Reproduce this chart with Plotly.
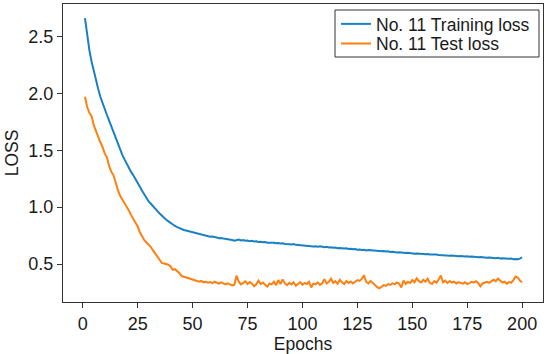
import plotly.graph_objects as go

epochs = list(range(1, 201))

train_loss = [
    2.66, 2.50, 2.38, 2.28, 2.19, 2.11, 2.04, 1.97, 1.91, 1.86,
    1.81, 1.76, 1.71, 1.65, 1.60, 1.55, 1.50, 1.46, 1.42, 1.38,
    1.35, 1.31, 1.28, 1.25, 1.22, 1.18, 1.145, 1.11, 1.075, 1.05,
    1.03, 1.005, 0.985, 0.965, 0.945, 0.925, 0.905, 0.89, 0.875, 0.86,
    0.85, 0.835, 0.825, 0.815, 0.81, 0.80, 0.795, 0.79, 0.785, 0.78,
    0.772, 0.768, 0.760, 0.757, 0.752, 0.748, 0.745, 0.740, 0.742, 0.735,
    0.733, 0.728, 0.730, 0.724, 0.722, 0.718, 0.716, 0.712, 0.706, 0.712,
    0.716, 0.708, 0.712, 0.705, 0.707, 0.700, 0.704, 0.698, 0.701, 0.695,
    0.697, 0.692, 0.694, 0.688, 0.690, 0.686, 0.688, 0.683, 0.685, 0.680,
    0.682, 0.677, 0.679, 0.675, 0.672, 0.676, 0.669, 0.667, 0.664, 0.666,
    0.661, 0.663, 0.658, 0.660, 0.655, 0.657, 0.652, 0.656, 0.650, 0.648,
    0.652, 0.646, 0.648, 0.643, 0.645, 0.640, 0.642, 0.638, 0.636, 0.639,
    0.633, 0.635, 0.630, 0.632, 0.627, 0.629, 0.624, 0.626, 0.620, 0.623,
    0.621, 0.618, 0.620, 0.615, 0.617, 0.613, 0.615, 0.610, 0.612, 0.607,
    0.609, 0.605, 0.601, 0.604, 0.600, 0.602, 0.597, 0.599, 0.595, 0.597,
    0.592, 0.594, 0.590, 0.592, 0.588, 0.586, 0.589, 0.584, 0.586, 0.582,
    0.584, 0.580, 0.578, 0.581, 0.576, 0.578, 0.574, 0.576, 0.572, 0.574,
    0.570, 0.572, 0.568, 0.566, 0.569, 0.564, 0.566, 0.562, 0.564, 0.560,
    0.562, 0.558, 0.560, 0.556, 0.558, 0.554, 0.556, 0.552, 0.555, 0.550,
    0.552, 0.548, 0.550, 0.546, 0.548, 0.543, 0.545, 0.542, 0.548, 0.560,
]

test_loss = [
    1.97, 1.88, 1.83, 1.80, 1.72, 1.66, 1.62, 1.57, 1.53, 1.47,
    1.44, 1.36, 1.31, 1.28, 1.21, 1.15, 1.10, 1.07, 1.04, 1.01,
    0.97, 0.93, 0.90, 0.86, 0.83, 0.78, 0.74, 0.71, 0.69, 0.67,
    0.65, 0.62, 0.59, 0.56, 0.54, 0.51, 0.505, 0.50, 0.495, 0.48,
    0.45, 0.455, 0.44, 0.42, 0.395, 0.39, 0.385, 0.38, 0.37, 0.365,
    0.358, 0.350, 0.345, 0.352, 0.340, 0.345, 0.336, 0.342, 0.333, 0.345,
    0.338, 0.328, 0.340, 0.332, 0.322, 0.330, 0.318, 0.312, 0.318, 0.398,
    0.345, 0.322, 0.335, 0.348, 0.325, 0.342, 0.330, 0.305, 0.322, 0.355,
    0.325, 0.338, 0.318, 0.302, 0.330, 0.322, 0.345, 0.315, 0.360, 0.325,
    0.365, 0.330, 0.315, 0.335, 0.322, 0.340, 0.310, 0.330, 0.342, 0.318,
    0.335, 0.325, 0.345, 0.295, 0.330, 0.322, 0.340, 0.318, 0.332, 0.368,
    0.330, 0.345, 0.372, 0.335, 0.350, 0.328, 0.362, 0.340, 0.325, 0.352,
    0.335, 0.348, 0.330, 0.345, 0.360, 0.352, 0.370, 0.402, 0.345, 0.330,
    0.352, 0.335, 0.315, 0.298, 0.288, 0.302, 0.315, 0.308, 0.325, 0.318,
    0.330, 0.322, 0.338, 0.328, 0.295, 0.355, 0.325, 0.345, 0.335, 0.360,
    0.340, 0.375, 0.350, 0.338, 0.362, 0.345, 0.372, 0.335, 0.325, 0.350,
    0.335, 0.365, 0.400, 0.340, 0.355, 0.335, 0.352, 0.338, 0.345, 0.330,
    0.342, 0.335, 0.328, 0.340, 0.325, 0.332, 0.345, 0.338, 0.350, 0.335,
    0.305, 0.330, 0.338, 0.345, 0.335, 0.348, 0.362, 0.350, 0.372, 0.355,
    0.338, 0.345, 0.328, 0.342, 0.335, 0.358, 0.390, 0.382, 0.355, 0.340,
]

x_ticks = [0, 25, 50, 75, 100, 125, 150, 175, 200]
y_ticks = [0.5, 1.0, 1.5, 2.0, 2.5]

FONT = "Liberation Sans, Arial, sans-serif"
W, H = 550, 354
ML, MR, MT, MB = 63, 7, 4, 52
PW, PH = W - ML - MR, H - MT - MB


def px_x(p):
    return (p - ML) / PW


def px_y(p):
    return (H - MB - p) / PH


fig = go.Figure()
fig.add_trace(go.Scatter(x=epochs, y=train_loss, mode="lines",
                         name="No. 11 Training loss", legend="legend",
                         line=dict(color="#1a80c4", width=2)))
fig.add_trace(go.Scatter(x=epochs, y=test_loss, mode="lines",
                         name="No. 11 Test loss", legend="legend2",
                         line=dict(color="#ff8010", width=2)))

axis_common = dict(showline=True, mirror=True, linecolor="#333333", linewidth=1.3,
                   ticks="outside", ticklen=5, tickwidth=1.2, tickcolor="#333333",
                   showgrid=False, zeroline=False,
                   tickfont=dict(family=FONT, size=18, color="#1a1a1a"))

legend_common = dict(xanchor="left", yanchor="middle", borderwidth=0,
                     bgcolor="rgba(0,0,0,0)",
                     font=dict(family=FONT, size=17.5, color="#1a1a1a"))

fig.update_layout(
    width=W, height=H,
    margin=dict(l=ML, r=MR, t=MT, b=MB),
    paper_bgcolor="white", plot_bgcolor="white",
    font=dict(family=FONT, size=17, color="#1a1a1a"),
    xaxis=dict(range=[-9, 209.5], tickvals=x_ticks,
               title=dict(text="Epochs", font=dict(family=FONT, size=17.5), standoff=3),
               **axis_common),
    yaxis=dict(range=[0.167, 2.785], tickvals=y_ticks, tickformat=".1f",
               title=dict(text="LOSS", font=dict(family=FONT, size=17.5), standoff=5),
               **axis_common),
    legend=dict(x=px_x(336), y=px_y(24), **legend_common),
    legend2=dict(x=px_x(336), y=px_y(43.5), **legend_common),
    shapes=[dict(type="rect", xref="paper", yref="paper",
                 x0=px_x(335), x1=px_x(539), y0=px_y(57), y1=px_y(10),
                 line=dict(color="#333333", width=1), fillcolor="white",
                 layer="above")],
    showlegend=True,
)

fig.write_html("out.html", config={"displayModeBar": False})

with open("out.html", "r", encoding="utf-8") as f:
    html = f.read()
html = html.replace("<head>", "<head><style>html,body{margin:0;padding:0;overflow:hidden;}</style>", 1)
with open("out.html", "w", encoding="utf-8") as f:
    f.write(html)
